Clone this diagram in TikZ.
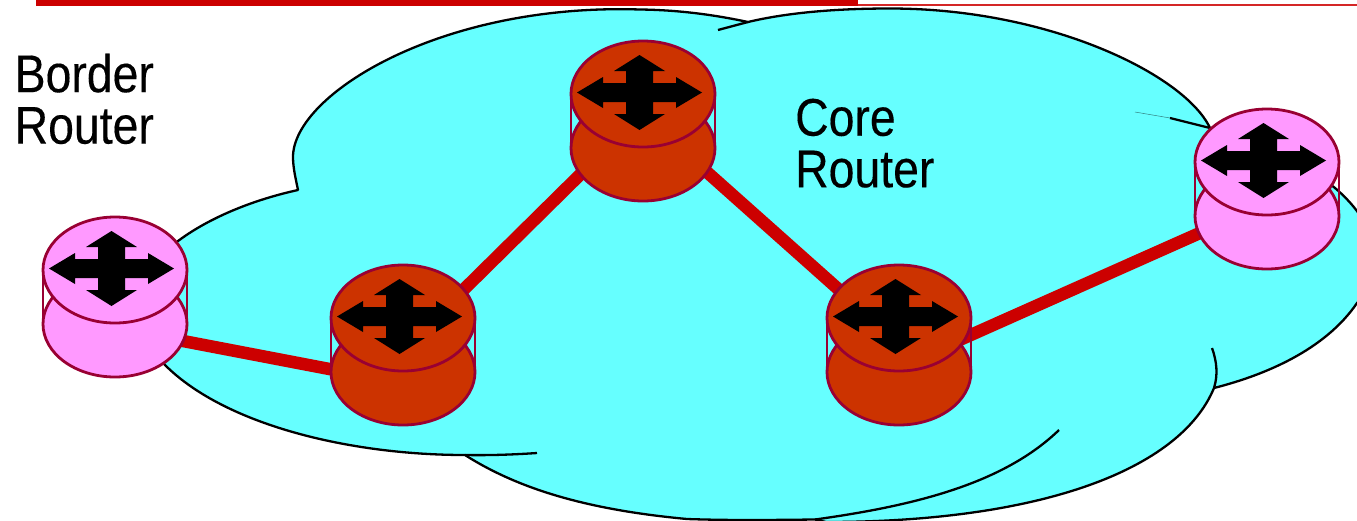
\documentclass[tikz,border=0pt]{standalone}
\usepackage{fontspec}
\setmainfont[FakeStretch=0.875,FakeBold=0.25]{Liberation Sans}
\usetikzlibrary{shapes.geometric}
\definecolor{cloudcyan}{HTML}{66FFFF}
\definecolor{linkred}{HTML}{CC0000}
\definecolor{rim}{HTML}{990033}
\definecolor{borderpink}{HTML}{FF99FF}
\definecolor{coreorange}{HTML}{CC3300}
\tikzset{
  disc/.style={ellipse,draw=rim,line width=2.8pt,minimum width=144pt,minimum height=106pt,inner sep=0pt,outer sep=0pt},
  side/.style={draw=rim,line width=2.2pt},
  link/.style={draw=linkred,line width=12.5pt},
  cloudline/.style={draw=black,line width=2.3pt,line join=round},
  label/.style={anchor=north west,inner sep=0pt,align=left,font=\fontsize{53}{51.5}\selectfont}
}
\newcommand{\routerdraw}[4]{%
  \node[disc,fill=#4] (#1b) at (#2,#3+54) {};
  \draw[side] (#1b.west) -- ++(0,-54) coordinate (#1w);
  \draw[side] (#1b.east) -- ++(0,-54) coordinate (#1e);
  \node[disc,fill=#4] (#1t) at (#2,#3) {};
  \fill[black,shift={(#2-3.5,#3-1.5)}]
    (0,-37.5) -- (25.5,-21.5) -- (13.5,-21.5) -- (13.5,-9.5) -- (36.5,-9.5) -- (36.5,-15.5)
    -- (62.5,0) -- (36.5,15.5) -- (36.5,9.5) -- (13.5,9.5) -- (13.5,21.5) -- (25.5,21.5)
    -- (0,37.5) -- (-25.5,21.5) -- (-13.5,21.5) -- (-13.5,9.5) -- (-36.5,9.5) -- (-36.5,15.5)
    -- (-62.5,0) -- (-36.5,-15.5) -- (-36.5,-9.5) -- (-13.5,-9.5) -- (-13.5,-21.5) -- (-25.5,-21.5) -- cycle;
}
\begin{document}
\begin{tikzpicture}[x=1pt,y=-1pt]
\useasboundingbox (0,0) rectangle (1357,520);
\fill[white] (0,0) rectangle (1357,520);
% header rule
\fill[linkred] (36,0) rectangle (858,6);
\fill[linkred!85!white] (858,4) rectangle (1357,5.8);
% cloud
\begin{scope}
\clip (0,0) rectangle (1357,520);
\path[fill=cloudcyan,cloudline]
  (298,190) .. controls (296,180) and (293,168) .. (293,157)
  .. controls (293,95) and (440,3) .. (640,9.5)
  .. controls (680,10) and (715,15) .. (748,22)
  .. controls (790,12) and (840,8.5) .. (890,8.5)
  .. controls (1050,8.5) and (1185,75) .. (1210,128)
  .. controls (1260,135) and (1300,160) .. (1335,188)
  .. controls (1355,205) and (1375,230) .. (1375,260)
  .. controls (1375,280) and (1368,293) .. (1357,303)
  .. controls (1325,350) and (1265,375) .. (1214,388)
  .. controls (1180,470) and (1040,522) .. (826,522)
  -- (815,519.5)
  .. controls (770,520) and (730,520.5) .. (687,519)
  .. controls (590,510) and (520,490) .. (465,455)
  .. controls (350,455) and (225,425) .. (165,365)
  .. controls (140,335) and (135,295) .. (150,268)
  .. controls (175,235) and (230,205) .. (298,190) -- cycle;
\coordinate (t1a) at (718,30);
\coordinate (t1b) at (748,22);
\coordinate (t2a) at (1135,112);
\coordinate (t2b) at (1170,118);
\coordinate (t2c) at (1210,128);
\coordinate (t3a) at (1212,348);
\coordinate (t3b) at (1214,388);
\coordinate (t4a) at (1059,430);
\coordinate (t4b) at (815,519.5);
\coordinate (t5a) at (465,455);
\coordinate (t5b) at (537,453);
\draw[cloudline] (t1a) -- (t1b);
\draw[draw=black!50!cloudcyan,line width=0.5pt] (t2a) -- (t2b);
\draw[cloudline] (t2b) -- (t2c);
\draw[cloudline] (t3a) .. controls (1217,362) and (1218,375) .. (t3b);
\draw[cloudline] (t4a) .. controls (1005,482) and (920,505) .. (t4b);
\draw[cloudline] (t5a) .. controls (490,455.5) and (515,454.5) .. (t5b);
\end{scope}
% links
\coordinate (l1a) at (170,338.5);
\coordinate (l1b) at (345,372);
\coordinate (l2a) at (445,308);
\coordinate (l2b) at (600,155);
\coordinate (l3a) at (690,157);
\coordinate (l3b) at (855,304);
\coordinate (l4a) at (955,342);
\coordinate (l4b) at (1220,224);
\draw[link] (l1a) -- (l1b);
\draw[link] (l2a) -- (l2b);
\draw[link] (l3a) -- (l3b);
\draw[link] (l4a) -- (l4b);
% routers
\routerdraw{ra}{115}{270}{borderpink}
\routerdraw{rb}{403}{318}{coreorange}
\routerdraw{rc}{643}{94}{coreorange}
\routerdraw{rd}{899}{318}{coreorange}
\routerdraw{re}{1267}{162}{borderpink}
% labels
\node[label] (borderlabel) at (14.5,53.5) {Border\\Router};
\node[label] (corelabel) at (795,98.5) {Core\\Router};
\end{tikzpicture}
\end{document}
